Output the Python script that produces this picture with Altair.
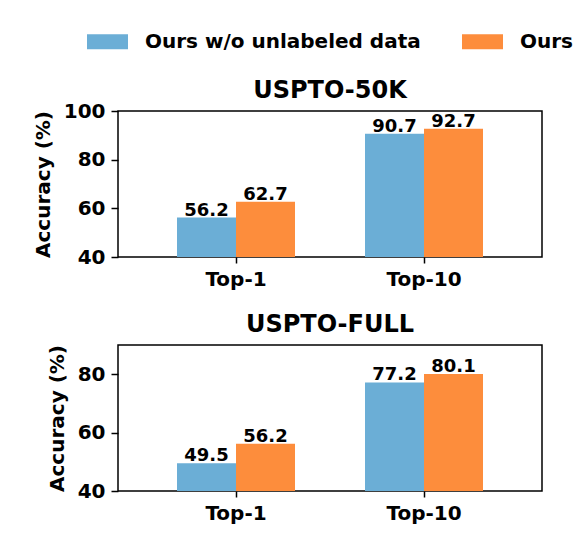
import altair as alt
import pandas as pd

# Top-k retrosynthesis accuracy on two benchmarks
metrics = ["Top-1", "Top-10"]
series = ["Ours w/o unlabeled data", "Ours"]
colors = ["#6baed6", "#fd8d3c"]

uspto_50k_base = [56.2, 90.7]
uspto_50k_ours = [62.7, 92.7]
uspto_full_base = [49.5, 77.2]
uspto_full_ours = [56.2, 80.1]

FONT = "DejaVu Sans"

legend = alt.Legend(
    title=None, orient="none", direction="horizontal", columns=2,
    legendX=-31, legendY=-90, padding=0,
    symbolType="M-1,-0.366L1,-0.366L1,0.366L-1,0.366Z",
    symbolSize=1681, symbolStrokeWidth=0, symbolOpacity=1,
    labelFontSize=20, labelFont=FONT, labelFontWeight="bold", labelLimit=500,
    labelColor="black", labelOffset=17, columnPadding=41,
)


def frame(base_vals, ours_vals):
    rows = []
    for i, m in enumerate(metrics):
        rows.append({"metric": m, "series": series[0], "value": base_vals[i]})
        rows.append({"metric": m, "series": series[1], "value": ours_vals[i]})
    return pd.DataFrame(rows)


def panel(df, title, y_domain, y_ticks, title_dy):
    x = alt.X(
        "metric:N",
        sort=metrics,
        scale=alt.Scale(paddingInner=70 / 188, paddingOuter=59 / 188),
        axis=alt.Axis(title=None, labelAngle=0, labelFontSize=20, labelFont=FONT,
                      labelFontWeight="bold", labelColor="black", tickColor="black",
                      tickWidth=1.5, tickSize=6, labelPadding=6, domain=False),
    )
    xoff = alt.XOffset("series:N", sort=series,
                       scale=alt.Scale(paddingInner=0, paddingOuter=0))
    y = alt.Y(
        "value:Q",
        scale=alt.Scale(domain=y_domain, zero=False, nice=False),
        axis=alt.Axis(title="Accuracy (%)", values=y_ticks, grid=False, domain=False,
                      labelFontSize=20, labelFont=FONT, labelFontWeight="bold",
                      labelColor="black", tickColor="black", tickWidth=1.5, tickSize=7,
                      labelPadding=6, titleFontSize=20, titleFont=FONT,
                      titleFontWeight="bold", titleColor="black", titlePadding=10),
    )
    color = alt.Color("series:N", sort=series,
                      scale=alt.Scale(domain=series, range=colors), legend=legend)

    bars = alt.Chart(df).mark_bar(clip=True).encode(x=x, xOffset=xoff, y=y, color=color)
    labels = alt.Chart(df).mark_text(
        baseline="alphabetic", dy=-2, fontSize=18, font=FONT, fontWeight="bold",
        color="black",
    ).encode(x=x, xOffset=xoff, y=y, text=alt.Text("value:Q", format=".1f"))

    return alt.layer(bars, labels).properties(
        width=424, height=146,
        title=alt.TitleParams(title, fontSize=24, font=FONT, fontWeight="bold",
                              color="black", offset=8, dy=title_dy),
    )


top = panel(frame(uspto_50k_base, uspto_50k_ours), "USPTO-50K", [40, 100],
            [40, 60, 80, 100], 10)
bottom = panel(frame(uspto_full_base, uspto_full_ours), "USPTO-FULL", [40, 90],
               [40, 60, 80], 0)

chart = alt.vconcat(top, bottom, spacing=21).resolve_scale(
    y="independent"
).properties(
    padding={"left": 32, "top": 21, "right": 0, "bottom": 0},
    background="white",
).configure_view(stroke="black", strokeWidth=1.5)

chart.save("out.html", embed_options={"renderer": "svg", "actions": False})
